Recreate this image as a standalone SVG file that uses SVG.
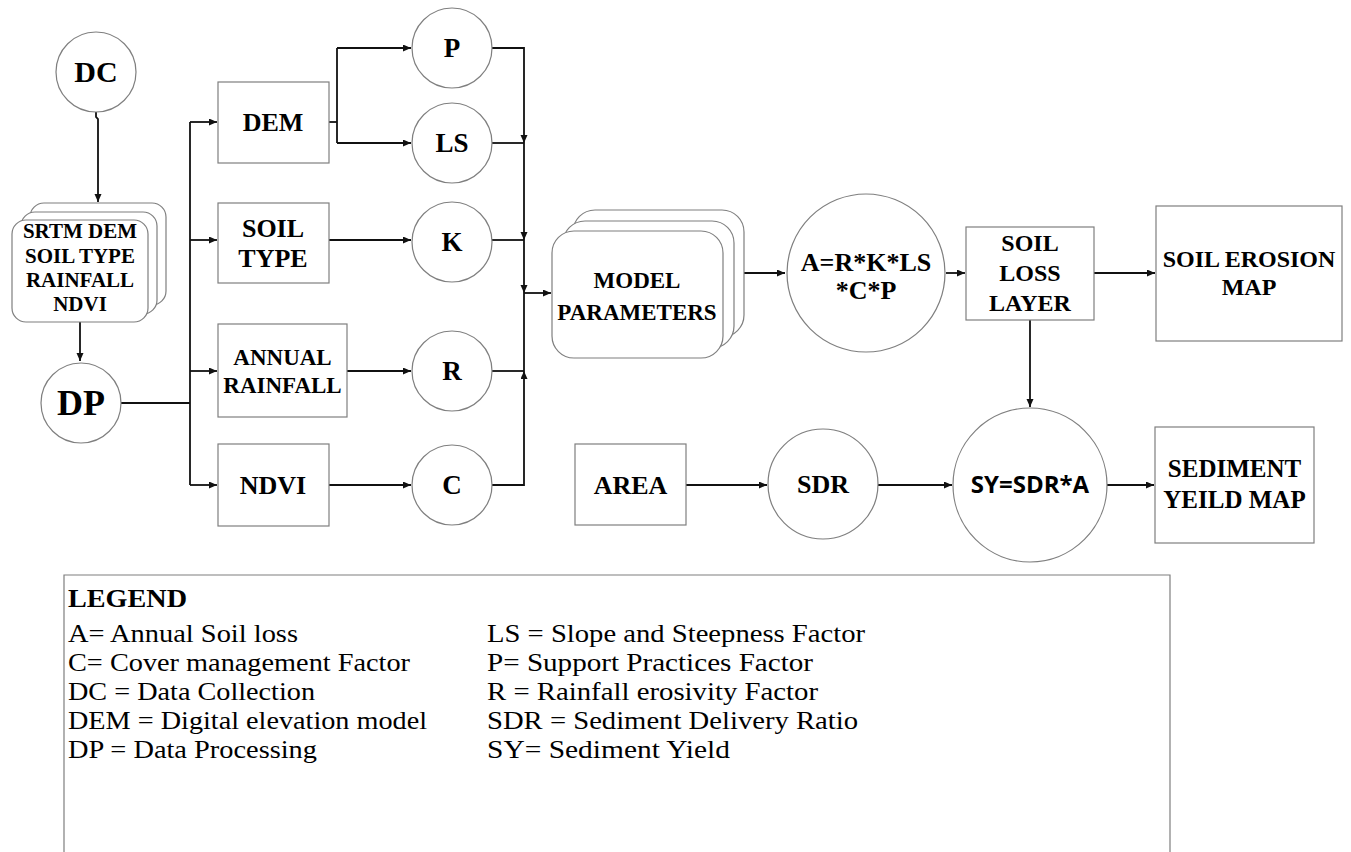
<svg xmlns="http://www.w3.org/2000/svg" width="1351" height="852" viewBox="0 0 1351 852">
  <style>
    .shape { fill: #ffffff; stroke: #7f7f7f; stroke-width: 1.2; }
    .wire { fill: none; stroke: #111111; stroke-width: 1.8; }
    .lbl { font-family: "Liberation Serif", "Times New Roman", serif; font-weight: bold; fill: #000000; text-anchor: middle; }
    .sans { font-family: "Open Sans", "Noto Sans", sans-serif; font-weight: bold; fill: #000000; text-anchor: middle; }
    .leg { font-family: "Liberation Serif", "Times New Roman", serif; font-size: 26px; fill: #000000; }
  </style>
  <defs>
    <marker id="arrow" markerUnits="userSpaceOnUse" markerWidth="9" markerHeight="8" refX="8" refY="3.5" orient="auto">
      <path d="M0,0 L8,3.5 L0,7 z" fill="#111111"/>
    </marker>
  </defs>

  <rect width="1351" height="852" fill="#ffffff"/>

  <!-- connectors -->
  <g id="connectors" class="wire">
    <path d="M96,112 V117 L98,119 V202" marker-end="url(#arrow)"/>
    <path d="M80,322 V361" marker-end="url(#arrow)"/>
    <path d="M121,403 H190"/>
    <path d="M190,122 V485"/>
    <path d="M190,122 H217" marker-end="url(#arrow)"/>
    <path d="M190,240 H217" marker-end="url(#arrow)"/>
    <path d="M190,371 H217" marker-end="url(#arrow)"/>
    <path d="M190,485 H217" marker-end="url(#arrow)"/>
    <path d="M329,122 H337"/>
    <path d="M337,48 V143"/>
    <path d="M337,48 H411" marker-end="url(#arrow)"/>
    <path d="M337,143 H411" marker-end="url(#arrow)"/>
    <path d="M329,240 H411" marker-end="url(#arrow)"/>
    <path d="M347,371 H411" marker-end="url(#arrow)"/>
    <path d="M329,485 H411" marker-end="url(#arrow)"/>
    <path d="M492,48 H524 V143" marker-end="url(#arrow)"/>
    <path d="M524,143 V240" marker-end="url(#arrow)"/>
    <path d="M524,240 V293" marker-end="url(#arrow)"/>
    <path d="M492,143 H524"/>
    <path d="M492,240 H524"/>
    <path d="M492,371 H524"/>
    <path d="M492,485 H524 V371" marker-end="url(#arrow)"/>
    <path d="M524,371 V293"/>
    <path d="M524,293 H551" marker-end="url(#arrow)"/>
    <path d="M744,273 H785" marker-end="url(#arrow)"/>
    <path d="M946,273 H965" marker-end="url(#arrow)"/>
    <path d="M1094,273 H1155" marker-end="url(#arrow)"/>
    <path d="M1030,320 V407" marker-end="url(#arrow)"/>
    <path d="M686,485 H767" marker-end="url(#arrow)"/>
    <path d="M878,485 H952" marker-end="url(#arrow)"/>
    <path d="M1107,485 H1154" marker-end="url(#arrow)"/>
  </g>

  <g id="node-dc">
    <circle class="shape" cx="96" cy="72" r="40"/>
    <text class="lbl" x="96" y="82" font-size="30">DC</text>
  </g>

  <g id="node-inputs">
    <rect class="shape" x="30" y="203" width="136" height="102" rx="14"/>
    <rect class="shape" x="21" y="212" width="136" height="102" rx="14"/>
    <rect class="shape" x="12" y="220" width="136" height="102" rx="14"/>
    <text class="lbl" x="80" y="238" font-size="21">SRTM DEM</text>
    <text class="lbl" x="80" y="263" font-size="21">SOIL TYPE</text>
    <text class="lbl" x="80" y="287" font-size="21">RAINFALL</text>
    <text class="lbl" x="80" y="311" font-size="21">NDVI</text>
  </g>

  <g id="node-dp">
    <circle class="shape" cx="81" cy="403" r="40"/>
    <text class="lbl" x="81" y="415" font-size="36">DP</text>
  </g>

  <g id="node-dem">
    <rect class="shape" x="218" y="82" width="111" height="81"/>
    <text class="lbl" x="273" y="131" font-size="26">DEM</text>
  </g>

  <g id="node-soil-type">
    <rect class="shape" x="218" y="203" width="111" height="80"/>
    <text class="lbl" x="273" y="237" font-size="26">SOIL</text>
    <text class="lbl" x="273" y="267" font-size="26">TYPE</text>
  </g>

  <g id="node-annual-rainfall">
    <rect class="shape" x="218" y="324" width="129" height="93"/>
    <text class="lbl" x="282.5" y="365" font-size="23">ANNUAL</text>
    <text class="lbl" x="282.5" y="393" font-size="23">RAINFALL</text>
  </g>

  <g id="node-ndvi">
    <rect class="shape" x="218" y="444" width="111" height="82"/>
    <text class="lbl" x="273" y="494" font-size="26">NDVI</text>
  </g>

  <g id="node-p">
    <circle class="shape" cx="452" cy="48" r="40"/>
    <text class="lbl" x="452" y="57" font-size="27">P</text>
  </g>
  <g id="node-ls">
    <circle class="shape" cx="452" cy="143" r="40"/>
    <text class="lbl" x="452" y="152" font-size="27">LS</text>
  </g>
  <g id="node-k">
    <circle class="shape" cx="452" cy="242" r="40"/>
    <text class="lbl" x="452" y="251" font-size="27">K</text>
  </g>
  <g id="node-r">
    <circle class="shape" cx="452" cy="371" r="40"/>
    <text class="lbl" x="452" y="380" font-size="27">R</text>
  </g>
  <g id="node-c">
    <circle class="shape" cx="452" cy="485" r="40"/>
    <text class="lbl" x="452" y="494" font-size="27">C</text>
  </g>

  <g id="node-model-parameters">
    <rect class="shape" x="573" y="210" width="171" height="127" rx="22"/>
    <rect class="shape" x="563" y="221" width="171" height="127" rx="22"/>
    <rect class="shape" x="552" y="231" width="171" height="127" rx="22"/>
    <text class="lbl" x="637" y="288" font-size="23">MODEL</text>
    <text class="lbl" x="637" y="320" font-size="23">PARAMETERS</text>
  </g>

  <g id="node-usle">
    <circle class="shape" cx="866" cy="273" r="79"/>
    <text class="lbl" x="866" y="271" font-size="26">A=R*K*LS</text>
    <text class="lbl" x="866" y="299" font-size="26">*C*P</text>
  </g>

  <g id="node-soil-loss-layer">
    <rect class="shape" x="966" y="227" width="128" height="93"/>
    <text class="lbl" x="1030" y="251" font-size="24">SOIL</text>
    <text class="lbl" x="1030" y="281" font-size="24">LOSS</text>
    <text class="lbl" x="1030" y="311" font-size="24">LAYER</text>
  </g>

  <g id="node-soil-erosion-map">
    <rect class="shape" x="1156" y="206" width="186" height="135"/>
    <text class="lbl" x="1249" y="267" font-size="24">SOIL EROSION</text>
    <text class="lbl" x="1249" y="295" font-size="24">MAP</text>
  </g>

  <g id="node-area">
    <rect class="shape" x="575" y="444" width="111" height="81"/>
    <text class="lbl" x="630.5" y="494" font-size="26">AREA</text>
  </g>

  <g id="node-sdr">
    <circle class="shape" cx="823" cy="484" r="55"/>
    <text class="lbl" x="823" y="493" font-size="26">SDR</text>
  </g>

  <g id="node-sy">
    <circle class="shape" cx="1030" cy="485" r="77"/>
    <text class="sans" x="1030" y="493" font-size="24">SY=SDR*A</text>
  </g>

  <g id="node-sediment-yield-map">
    <rect class="shape" x="1155" y="427" width="159" height="116"/>
    <text class="lbl" x="1234.5" y="477" font-size="25">SEDIMENT</text>
    <text class="lbl" x="1234.5" y="508" font-size="25">YEILD MAP</text>
  </g>

  <g id="legend">
    <path class="shape" fill="none" d="M64,853 V575 H1170 V853"/>
    <text class="leg" x="68" y="607" font-weight="bold" textLength="119" lengthAdjust="spacingAndGlyphs">LEGEND</text>
    <text class="leg" x="68" y="642" textLength="230" lengthAdjust="spacingAndGlyphs">A= Annual Soil loss</text>
    <text class="leg" x="68" y="671" textLength="342" lengthAdjust="spacingAndGlyphs">C= Cover management Factor</text>
    <text class="leg" x="68" y="700" textLength="247" lengthAdjust="spacingAndGlyphs">DC = Data Collection</text>
    <text class="leg" x="68" y="729" textLength="359" lengthAdjust="spacingAndGlyphs">DEM = Digital elevation model</text>
    <text class="leg" x="68" y="758" textLength="249" lengthAdjust="spacingAndGlyphs">DP = Data Processing</text>
    <text class="leg" x="487" y="642" textLength="378" lengthAdjust="spacingAndGlyphs">LS = Slope and Steepness Factor</text>
    <text class="leg" x="487" y="671" textLength="326" lengthAdjust="spacingAndGlyphs">P= Support Practices Factor</text>
    <text class="leg" x="487" y="700" textLength="331" lengthAdjust="spacingAndGlyphs">R = Rainfall erosivity Factor</text>
    <text class="leg" x="487" y="729" textLength="371" lengthAdjust="spacingAndGlyphs">SDR = Sediment Delivery Ratio</text>
    <text class="leg" x="487" y="758" textLength="243" lengthAdjust="spacingAndGlyphs">SY= Sediment Yield</text>
  </g>
</svg>
